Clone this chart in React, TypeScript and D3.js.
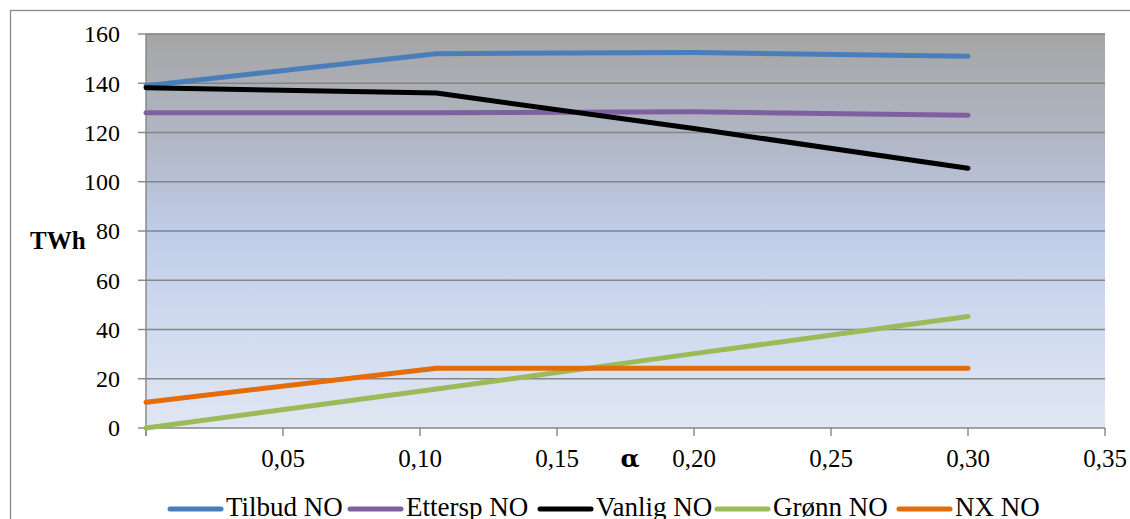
import React from "react";
import * as d3 from "d3";

const alphaValues = [0, 0.106, 0.2, 0.3];
const tilbud = [139, 152, 152.5, 151];
const ettersp = [128, 128, 128.4, 127];
const vanlig = [138.2, 136, 121.6, 105.5];
const gronn = [0, 15.8, 30.2, 45.3];
const nx = [10.5, 24.3, 24.3, 24.3];

const seriesNames = ["Tilbud NO", "Ettersp NO", "Vanlig NO", "Grønn NO", "NX NO"];
const seriesValues = [tilbud, ettersp, vanlig, gronn, nx];
const seriesColors = ["#4a7ebb", "#7e60a1", "#000000", "#9bbb59", "#e46c0a"];

const yTicks = [0, 20, 40, 60, 80, 100, 120, 140, 160];
const xTicks = [0, 0.05, 0.1, 0.15, 0.2, 0.25, 0.3, 0.35];

const legendX = [168, 348, 538, 715, 897];

const W = 1130;
const H = 519;
const plot = { left: 146, right: 1105, top: 34, bottom: 428 };
const FONT = "Liberation Serif, Times New Roman, serif";

export default function App() {
  const x = d3.scaleLinear().domain([0, 0.35]).range([plot.left, plot.right]);
  const y = d3.scaleLinear().domain([0, 160]).range([plot.bottom, plot.top]);
  const line = d3
    .line<number>()
    .x((_, i) => x(alphaValues[i]))
    .y((d) => y(d))
    .curve(d3.curveLinear);
  const fmt = (v: number) => v.toFixed(2).replace(".", ",");
  const txt = { fontFamily: FONT, fill: "#000" } as React.CSSProperties;

  return (
    <svg
      width={W}
      height={H}
      style={{ position: "absolute", left: 0, top: 0, background: "#fff", fontFamily: FONT }}
    >
      <defs>
        <linearGradient id="bg" x1="0" y1="0" x2="0" y2="1">
          <stop offset="0" stopColor="#a5a5a5" />
          <stop offset="0.3" stopColor="#b2b9c9" />
          <stop offset="0.5" stopColor="#c0cde8" />
          <stop offset="0.75" stopColor="#d0dbef" />
          <stop offset="1" stopColor="#e0e6f3" />
        </linearGradient>
      </defs>
      <rect x={10.5} y={10.5} width={W + 20} height={H + 20} fill="#fff" stroke="#8a8a8a" strokeWidth={1.3} />
      <rect
        x={plot.left}
        y={plot.top}
        width={plot.right - plot.left}
        height={plot.bottom - plot.top}
        fill="url(#bg)"
      />
      <line x1={plot.left} x2={plot.right} y1={plot.top - 0.5} y2={plot.top - 0.5} stroke="#d8d8d8" strokeWidth={1} />
      {yTicks.map((t) => (
        <g key={"y" + t}>
          {t > 0 && (
            <line x1={plot.left} x2={plot.right} y1={y(t)} y2={y(t)} stroke="#858585" strokeWidth={1.4} />
          )}
          <line x1={plot.left - 8} x2={plot.left} y1={y(t)} y2={y(t)} stroke="#858585" strokeWidth={1.4} />
          <text x={120} y={y(t)} dy="0.35em" textAnchor="end" style={{ ...txt, fontSize: 24 }}>
            {t}
          </text>
        </g>
      ))}
      <line x1={plot.left} x2={plot.left} y1={plot.top} y2={plot.bottom + 8} stroke="#858585" strokeWidth={1.4} />
      <line x1={plot.left} x2={plot.right} y1={plot.bottom} y2={plot.bottom} stroke="#858585" strokeWidth={1.4} />
      {xTicks.map((t) => (
        <g key={"x" + t}>
          <line x1={x(t)} x2={x(t)} y1={plot.bottom} y2={plot.bottom + 8} stroke="#858585" strokeWidth={1.4} />
          {t > 0 && (
            <text x={x(t)} y={467} textAnchor="middle" style={{ ...txt, fontSize: 25 }}>
              {fmt(t)}
            </text>
          )}
        </g>
      ))}
      {seriesValues.map((vals, i) => (
        <path
          key={seriesNames[i]}
          d={line(vals) || ""}
          fill="none"
          stroke={seriesColors[i]}
          strokeWidth={5}
          strokeLinecap="round"
          strokeLinejoin="round"
        />
      ))}
      <text x={30} y={249} style={{ ...txt, fontSize: 25, fontWeight: "bold" }}>
        TWh
      </text>
      <text
        x={630}
        y={467}
        textAnchor="middle"
        style={{ fontFamily: "DejaVu Serif, serif", fontSize: 25, fontWeight: "bold", fill: "#000" }}
      >
        α
      </text>
      {seriesNames.map((name, i) => (
        <g key={"lg" + name}>
          <line
            x1={legendX[i] + 2}
            x2={legendX[i] + 53}
            y1={509}
            y2={509}
            stroke={seriesColors[i]}
            strokeWidth={5}
            strokeLinecap="round"
          />
          <text x={legendX[i] + 58} y={516} style={{ ...txt, fontSize: 27 }}>
            {name}
          </text>
        </g>
      ))}
    </svg>
  );
}
